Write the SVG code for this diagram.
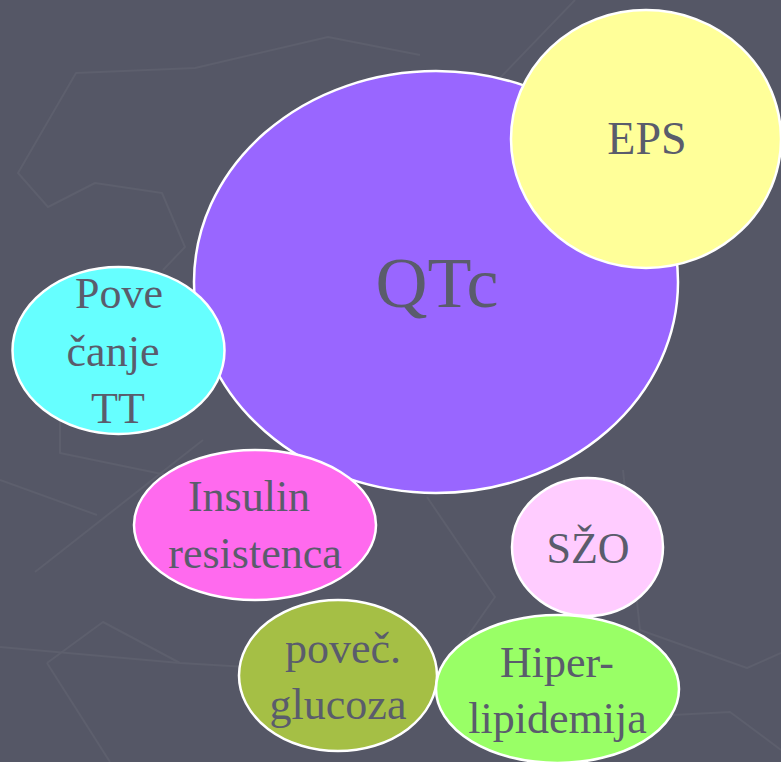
<svg xmlns="http://www.w3.org/2000/svg" width="781" height="762" viewBox="0 0 781 762">
<style>
.bgline{fill:none;stroke:#5d5f6d;stroke-width:2;stroke-linejoin:round}
.node{stroke:#ffffff;stroke-width:2.5}
.lbl{font-family:"Liberation Serif","DejaVu Serif",serif;fill:#5a5c6c;text-anchor:middle}
.s44{font-size:44px}
</style>
<rect x="0" y="0" width="781" height="762" fill="#555766"/>
<g id="background-lines">
<polyline class="bgline" points="420,55 328,37 195,68 76,73 18,173 48,207 95,183 162,193 185,247 163,270"/>
<polyline class="bgline" points="60,420 60,453 157,473 200,480"/>
<polyline class="bgline" points="0,480 97,515"/>
<polyline class="bgline" points="35,572 203,440"/>
<polyline class="bgline" points="0,647 180,663 247,667"/>
<polyline class="bgline" points="47,663 103,622 180,663"/>
<polyline class="bgline" points="47,663 110,762"/>
<polyline class="bgline" points="427,497 495,597 467,637"/>
<polyline class="bgline" points="623,470 640,630 747,668 781,653"/>
<polyline class="bgline" points="673,715 730,712 781,750"/>
<polyline class="bgline" points="500,78 575,0"/>
</g>
<g id="connectors"></g>
<g id="node-qtc">
<ellipse class="node" cx="436" cy="282" rx="242" ry="211" fill="#9966ff"/>
<text class="lbl" x="437" y="307" font-size="72">QTc</text>
</g>
<g id="node-eps">
<ellipse class="node" cx="646" cy="139" rx="135" ry="129" fill="#ffff99"/>
<text class="lbl" x="647" y="154" font-size="46">EPS</text>
</g>
<g id="node-tt">
<ellipse class="node" cx="118.5" cy="350.5" rx="106" ry="83.5" fill="#66ffff"/>
<text class="lbl s44" x="119" y="308">Pove</text>
<text class="lbl s44" x="113" y="366">čanje</text>
<text class="lbl s44" x="118" y="423">TT</text>
</g>
<g id="node-insulin">
<ellipse class="node" cx="255" cy="525" rx="121" ry="75" fill="#ff6aee"/>
<text class="lbl s44" x="249" y="511">Insulin</text>
<text class="lbl s44" x="255" y="568">resistenca</text>
</g>
<g id="node-szo">
<ellipse class="node" cx="587.5" cy="547" rx="75.5" ry="69" fill="#ffccff"/>
<text class="lbl s44" x="588" y="563">SŽO</text>
</g>
<g id="node-glucoza">
<ellipse class="node" cx="338" cy="675.5" rx="99" ry="75.5" fill="#a5bf45"/>
<text class="lbl s44" x="343" y="663">poveč.</text>
<text class="lbl s44" x="338" y="719">glucoza</text>
</g>
<g id="node-hiper">
<ellipse class="node" cx="557.5" cy="689" rx="121.5" ry="74" fill="#99ff66"/>
<text class="lbl s44" x="557" y="677">Hiper-</text>
<text class="lbl s44" x="557.5" y="733">lipidemija</text>
</g>
</svg>
